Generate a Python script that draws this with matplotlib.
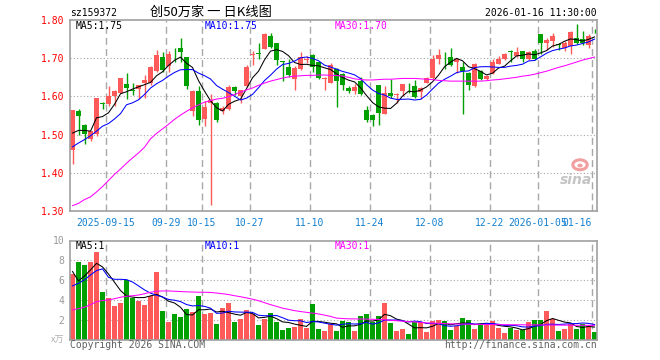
import numpy as np
import pandas as pd
import matplotlib
matplotlib.use("Agg")
import matplotlib.pyplot as plt
from matplotlib.patches import Ellipse

# ---------------------------- daily bars (2025-09-05 .. 2026-01-16)
opens = [1.459, 1.563, 1.526, 1.488, 1.502, 1.582, 1.579, 1.601, 1.610, 1.632,
         1.617, 1.620, 1.636, 1.635, 1.667, 1.703, 1.680, 1.712, 1.726, 1.703,
         1.561, 1.614, 1.542, 1.582, 1.582, 1.561, 1.568, 1.625, 1.601, 1.627,
         1.709, 1.713, 1.725, 1.759, 1.739, 1.692, 1.677, 1.645, 1.673, 1.694,
         1.708, 1.689, 1.645, 1.636, 1.673, 1.658, 1.622, 1.614, 1.640, 1.564,
         1.552, 1.629, 1.555, 1.608, 1.603, 1.614, 1.623, 1.626, 1.611, 1.636,
         1.647, 1.699, 1.711, 1.704, 1.689, 1.676, 1.662, 1.627, 1.667, 1.645,
         1.661, 1.686, 1.699, 1.720, 1.706, 1.718, 1.697, 1.720, 1.763, 1.739,
         1.746, 1.737, 1.728, 1.732, 1.754, 1.750, 1.734, 1.775]
highs = [1.565, 1.567, 1.528, 1.510, 1.596, 1.586, 1.627, 1.616, 1.649, 1.661,
         1.636, 1.631, 1.657, 1.680, 1.722, 1.715, 1.720, 1.728, 1.753, 1.704,
         1.616, 1.627, 1.587, 1.605, 1.585, 1.575, 1.630, 1.627, 1.616, 1.681,
         1.718, 1.739, 1.766, 1.766, 1.740, 1.693, 1.697, 1.680, 1.715, 1.707,
         1.710, 1.690, 1.650, 1.688, 1.675, 1.660, 1.628, 1.632, 1.650, 1.575,
         1.553, 1.630, 1.627, 1.645, 1.608, 1.633, 1.636, 1.642, 1.625, 1.651,
         1.708, 1.724, 1.715, 1.726, 1.700, 1.689, 1.663, 1.688, 1.670, 1.656,
         1.697, 1.706, 1.713, 1.721, 1.729, 1.719, 1.720, 1.725, 1.764, 1.752,
         1.766, 1.740, 1.745, 1.772, 1.790, 1.772, 1.763, 1.777]
lows = [1.423, 1.500, 1.475, 1.482, 1.497, 1.567, 1.576, 1.574, 1.609, 1.592,
        1.603, 1.592, 1.597, 1.630, 1.665, 1.665, 1.664, 1.689, 1.689, 1.620,
        1.548, 1.526, 1.522, 1.315, 1.532, 1.555, 1.565, 1.604, 1.583, 1.624,
        1.682, 1.699, 1.723, 1.728, 1.682, 1.640, 1.652, 1.617, 1.670, 1.688,
        1.665, 1.645, 1.617, 1.634, 1.573, 1.617, 1.610, 1.605, 1.603, 1.532,
        1.523, 1.525, 1.553, 1.595, 1.583, 1.600, 1.610, 1.597, 1.592, 1.634,
        1.645, 1.685, 1.672, 1.680, 1.662, 1.555, 1.618, 1.625, 1.642, 1.643,
        1.659, 1.684, 1.695, 1.690, 1.704, 1.690, 1.695, 1.695, 1.711, 1.722,
        1.730, 1.722, 1.720, 1.711, 1.737, 1.735, 1.727, 1.766]
closes = [1.564, 1.550, 1.502, 1.509, 1.595, 1.580, 1.600, 1.613, 1.647, 1.621,
          1.615, 1.629, 1.642, 1.676, 1.708, 1.668, 1.711, 1.710, 1.717, 1.627,
          1.614, 1.538, 1.573, 1.590, 1.538, 1.570, 1.625, 1.614, 1.616, 1.677,
          1.712, 1.711, 1.763, 1.730, 1.695, 1.690, 1.655, 1.674, 1.704, 1.697,
          1.676, 1.649, 1.648, 1.682, 1.640, 1.629, 1.614, 1.625, 1.605, 1.538,
          1.538, 1.557, 1.608, 1.601, 1.606, 1.632, 1.621, 1.599, 1.623, 1.649,
          1.699, 1.708, 1.710, 1.682, 1.699, 1.667, 1.630, 1.686, 1.645, 1.653,
          1.690, 1.697, 1.711, 1.715, 1.717, 1.699, 1.715, 1.699, 1.739, 1.748,
          1.759, 1.735, 1.741, 1.769, 1.739, 1.741, 1.757, 1.773]
vols = [6.6, 7.8, 7.53, 7.8, 8.8, 4.8, 4.2, 3.4, 3.67, 6.07,
        4.2, 3.93, 3.5, 4.47, 6.8, 2.93, 1.8, 2.6, 2.3, 3.1,
        2.8, 4.4, 2.6, 2.67, 1.6, 3.2, 3.7, 1.83, 2.13, 3.0,
        2.65, 1.5, 2.1, 2.7, 1.8, 1.0, 1.2, 1.3, 2.1, 1.23,
        3.6, 1.1, 0.9, 1.6, 0.93, 1.87, 1.8, 0.9, 2.4, 2.6,
        1.8, 2.4, 3.7, 1.7, 0.9, 1.1, 0.6, 1.8, 1.8, 0.8,
        1.9, 2.0, 1.9, 1.0, 1.4, 2.2, 2.0, 1.1, 1.5, 1.6,
        1.9, 1.2, 0.7, 1.2, 1.0, 1.0, 1.8, 2.0, 2.0, 2.9,
        2.1, 0.9, 1.1, 1.6, 1.1, 1.6, 1.4, 0.8]

# moving averages: first values need bars before the window
ma5_head = [1.504, 1.511, 1.511, 1.509]
ma10_head = [1.468, 1.478, 1.487, 1.497, 1.509, 1.522, 1.529, 1.541, 1.555]
ma30 = [1.314, 1.320, 1.330, 1.337, 1.350, 1.364, 1.380, 1.396, 1.410, 1.425,
        1.439, 1.452, 1.467, 1.489, 1.503, 1.515, 1.527, 1.540, 1.551, 1.561,
        1.570, 1.578, 1.585, 1.589, 1.593, 1.595, 1.599, 1.605, 1.611, 1.617,
        1.622, 1.629, 1.635, 1.640, 1.644, 1.648, 1.651, 1.653, 1.654, 1.655,
        1.655, 1.656, 1.656, 1.655, 1.655, 1.653, 1.650, 1.646, 1.644, 1.643,
        1.643, 1.644, 1.645, 1.645, 1.646, 1.647, 1.647, 1.647, 1.646, 1.645,
        1.644, 1.642, 1.641, 1.640, 1.640, 1.640, 1.640, 1.640, 1.640, 1.641,
        1.643, 1.644, 1.646, 1.648, 1.650, 1.653, 1.655, 1.658, 1.662, 1.666,
        1.671, 1.676, 1.680, 1.685, 1.690, 1.695, 1.699, 1.703]
vol_ma5_head = [6.88, 5.94, 6.44, 7.05]
vol_ma10_head = [5.44, 5.70, 6.04, 6.54, 6.98, 7.15, 6.30, 6.10, 6.10]
vol_ma30 = [3.02, 3.15, 3.30, 3.55, 3.85, 3.97, 4.03, 4.15, 4.30, 4.40,
            4.45, 4.52, 4.65, 4.80, 4.90, 4.93, 4.93, 4.90, 4.87, 4.84,
            4.82, 4.80, 4.80, 4.78, 4.72, 4.65, 4.57, 4.45, 4.35, 4.23,
            4.10, 3.95, 3.75, 3.55, 3.38, 3.20, 3.08, 2.95, 2.86, 2.78,
            2.70, 2.62, 2.50, 2.37, 2.20, 2.16, 2.13, 2.12, 2.11, 2.10,
            2.08, 2.07, 2.03, 1.98, 1.94, 1.89, 1.85, 1.81, 1.77, 1.72,
            1.69, 1.67, 1.65, 1.63, 1.61, 1.60, 1.59, 1.58, 1.57, 1.56,
            1.55, 1.54, 1.54, 1.53, 1.53, 1.53, 1.52, 1.52, 1.51, 1.51,
            1.50, 1.50, 1.49, 1.49, 1.48, 1.48, 1.47, 1.47]

tick_idx = [6, 16, 22, 30, 40, 50, 60, 70, 78, 87]
tick_labels = ['2025-09-15', '09-29', '10-15', '10-27', '11-10',
               '11-24', '12-08', '12-22', '2026-01-05', '01-16']
price_ticks = [1.30, 1.40, 1.50, 1.60, 1.70, 1.80]
vol_ticks = [2, 4, 6, 8, 10]

RED = '#ff5a5a'
GREEN = '#00a000'
GRID = '#a8a8a8'
FRAME = '#a0a0a0'
MONO = 'DejaVu Sans Mono'
CJK = ['Noto Sans CJK SC', 'DejaVu Sans']
W, H = 660, 360


def moving(values, n, head):
    s = pd.Series(values).rolling(n).mean().to_numpy()
    s[:len(head)] = head
    return s


def trunc(v, d=2):
    return np.floor(round(v, d + 1) * 10 ** d) / 10 ** d


def px(x, y):
    return x / W, 1 - y / H


o = np.array(opens)
c = np.array(closes)
x = np.arange(len(c))
colors = np.where(c >= o, RED, GREEN)
mid = x + 0.42

ma5 = moving(closes, 5, ma5_head)
ma10 = moving(closes, 10, ma10_head)
vma5 = moving(vols, 5, vol_ma5_head)
vma10 = moving(vols, 10, vol_ma10_head)

fig = plt.figure(figsize=(6.6, 3.6), dpi=100)
ax = fig.add_axes([70 / W, 1 - 211 / H, 527 / W, 191 / H])
axv = fig.add_axes([70 / W, 1 - 340 / H, 527 / W, 99.5 / H])

for a in (ax, axv):
    a.set_xlim(0, 87.83)
    for s in a.spines.values():
        s.set_color(FRAME)
        s.set_linewidth(1.2)
    for t in tick_idx:
        a.axvline(t, color=GRID, lw=1.0, ls=(0, (5, 3)), zorder=0)

# price panel
ax.set_ylim(1.30, 1.80)
for p in price_ticks[1:-1]:
    ax.axhline(p, color=GRID, lw=0.8, ls=(0, (1, 2)), zorder=0)

# sina watermark
ax.add_patch(Ellipse((85.0, 1.421), 2.4, 0.026, fc='none', ec='#f0a0a0',
                     lw=2.2, zorder=1))
ax.add_patch(Ellipse((85.0, 1.419), 0.9, 0.01, fc='#f0a0a0', ec='none',
                     zorder=1))
ax.text(84.3, 1.382, 'sina', fontsize=10, fontweight='bold', style='italic',
        color='#c4c4c4', ha='center', va='center', zorder=1)

ax.vlines(mid, lows, highs, colors=colors, lw=1, zorder=2)
ax.bar(x, np.maximum(np.abs(c - o), 0.0012), bottom=np.minimum(o, c),
       width=0.83, align='edge', color=colors, lw=0, zorder=2)
ax.plot(mid, ma5, color='black', lw=0.75, zorder=3)
ax.plot(mid, ma10, color='#0000ff', lw=0.75, zorder=3)
ax.plot(mid, ma30, color='#ff00ff', lw=0.75, zorder=3)

ax.set_yticks(price_ticks, [f"{p:.2f}" for p in price_ticks])
ax.tick_params(axis='y', length=0, pad=4, labelcolor='red', labelsize=7)
ax.set_xticks(tick_idx, tick_labels)
ax.tick_params(axis='x', length=0, pad=5, labelcolor='#1380d0', labelsize=7)
for lab in ax.get_xticklabels() + ax.get_yticklabels():
    lab.set_family(MONO)
ax.get_xticklabels()[-1].set_horizontalalignment('right')

ax.text(0.01, 0.97, f"MA5:{trunc(ma5[-1]):.2f}", transform=ax.transAxes,
        family=MONO, fontsize=7, color='black', va='center')
ax.text(0.256, 0.97, f"MA10:{trunc(ma10[-1]):.2f}", transform=ax.transAxes,
        family=MONO, fontsize=7, color='#0000ff', va='center')
ax.text(0.503, 0.97, f"MA30:{trunc(ma30[-1]):.2f}", transform=ax.transAxes,
        family=MONO, fontsize=7, color='#ff00ff', va='center')

# volume panel
axv.set_ylim(0, 10)
for v in vol_ticks[:-1]:
    axv.axhline(v, color=GRID, lw=0.8, ls=(0, (1, 2)), zorder=0)
axv.bar(x, vols, width=0.83, align='edge', color=colors, lw=0, zorder=2)
axv.plot(mid, vma5, color='black', lw=0.75, zorder=3)
axv.plot(mid, vma10, color='#0000ff', lw=0.75, zorder=3)
axv.plot(mid, vol_ma30, color='#ff00ff', lw=0.75, zorder=3)
axv.set_xticks([])
axv.set_yticks(vol_ticks, [str(v) for v in vol_ticks])
axv.tick_params(axis='y', length=0, pad=4, labelcolor='#999999', labelsize=7)
for lab in axv.get_yticklabels():
    lab.set_family(MONO)

axv.text(0.01, 0.945, f"MA5:{int(vma5[-1])}", transform=axv.transAxes,
         family=MONO, fontsize=7, color='black', va='center')
axv.text(0.256, 0.945, f"MA10:{int(vma10[-1])}", transform=axv.transAxes,
         family=MONO, fontsize=7, color='#0000ff', va='center')
axv.text(0.503, 0.945, f"MA30:{int(vol_ma30[-1])}", transform=axv.transAxes,
         family=MONO, fontsize=7, color='#ff00ff', va='center')

# header / footer
fig.text(*px(70, 13), 'sz159372', family=MONO, fontsize=7, va='center')
fig.text(*px(150, 12), '创50万家 一 日K线图', family=CJK, fontsize=9.5,
         va='center')
fig.text(*px(597, 13), '2026-01-16 11:30:00', family=MONO, fontsize=7,
         ha='right', va='center')
fig.text(*px(64, 340), 'x万', family=CJK, fontsize=6.5, color='#b0b0b0',
         ha='right', va='center')
fig.text(*px(70, 345.5), 'Copyright 2026 SINA.COM', family=MONO, fontsize=7,
         color='#606060', va='center')
fig.text(*px(597, 345.5), 'http://finance.sina.com.cn', family=MONO,
         fontsize=7, color='#606060', ha='right', va='center')

fig.savefig('out.png', dpi=100, facecolor='white')
